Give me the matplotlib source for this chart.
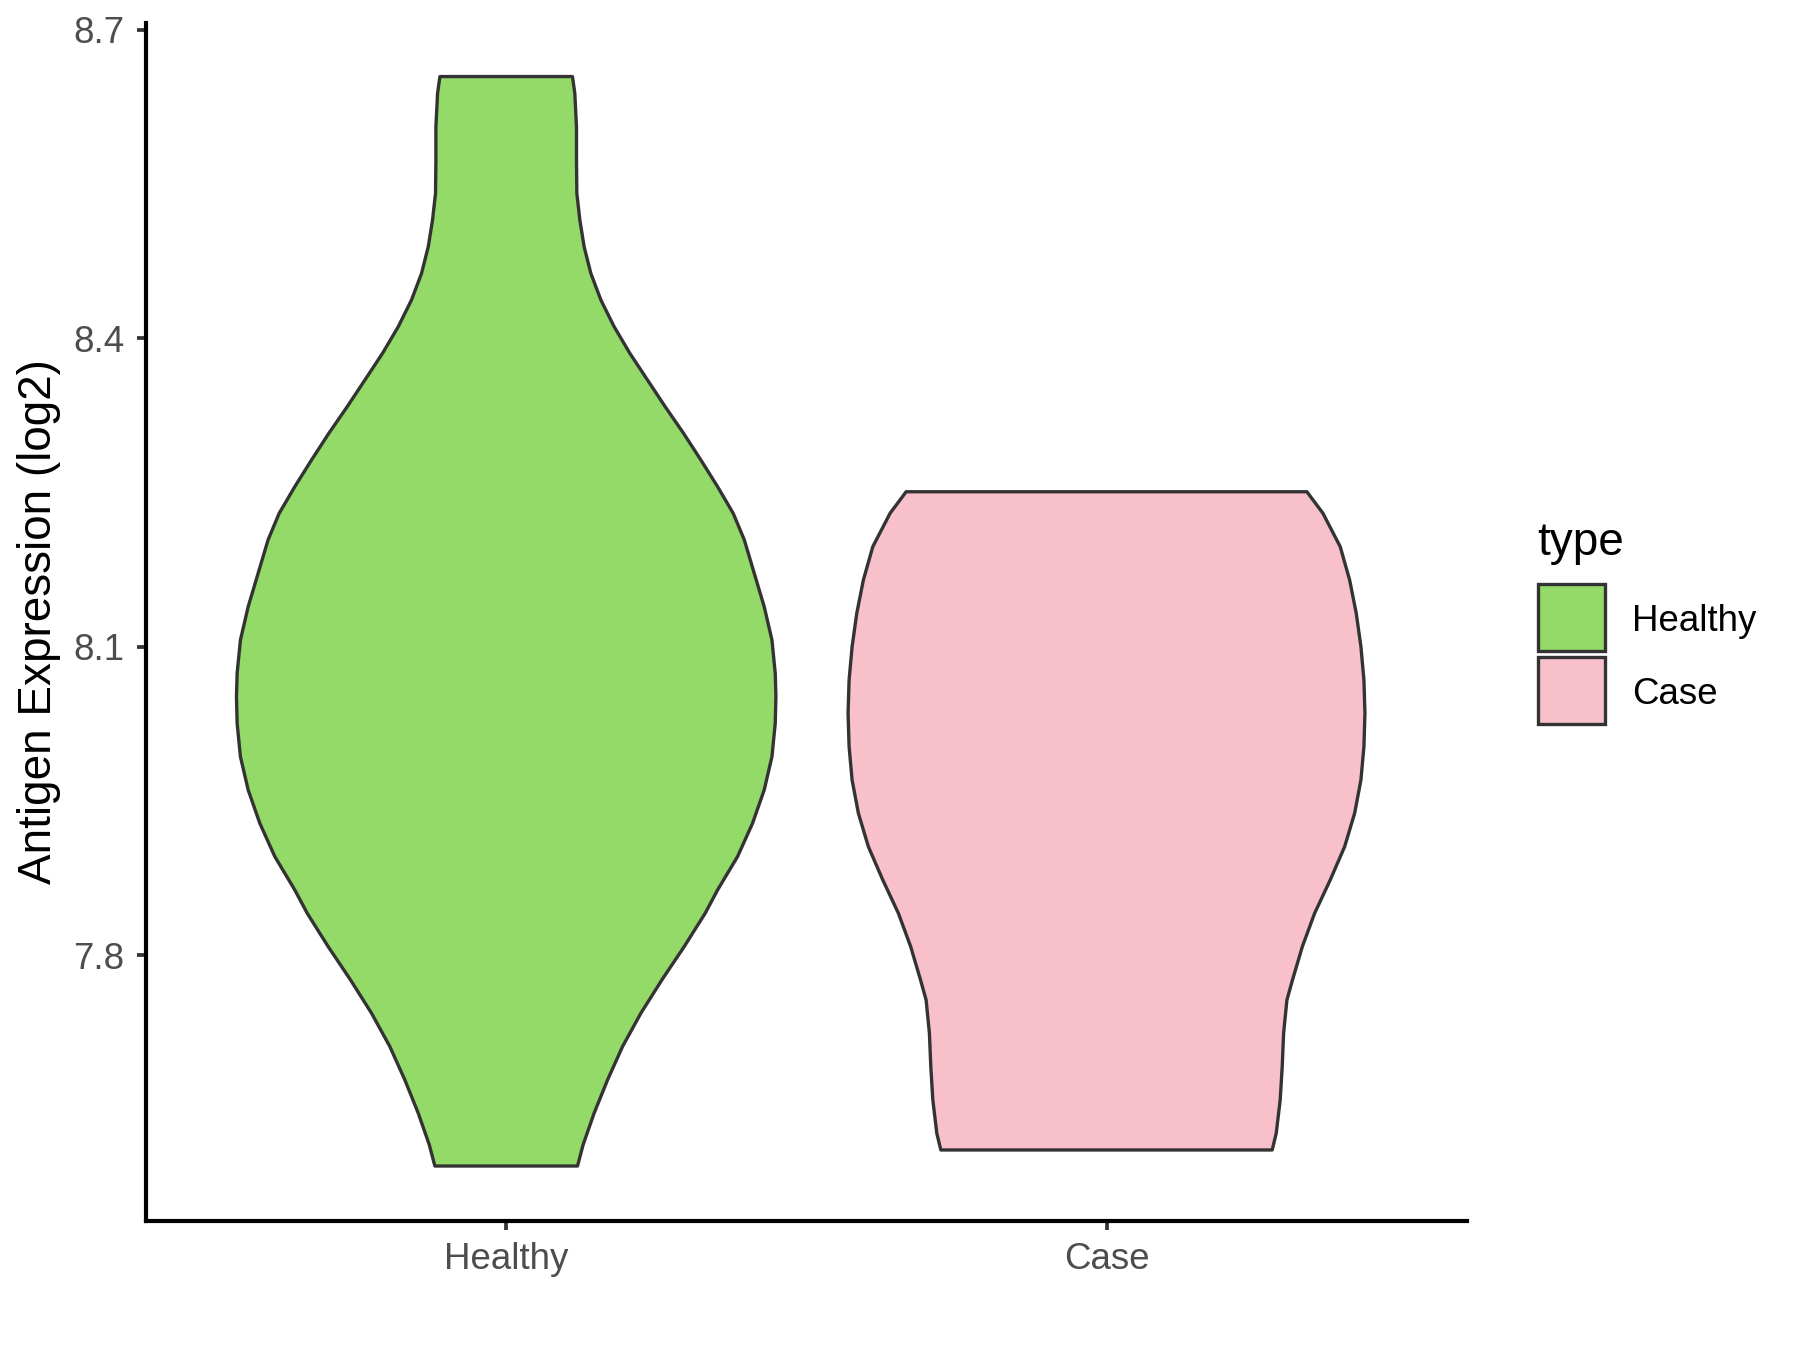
import numpy as np
import matplotlib
matplotlib.use('Agg')
import matplotlib.pyplot as plt
from matplotlib.patches import Rectangle

# groups and fills
groups = ['Healthy', 'Case']
fills = ['#93DA69', '#F8C0CB']
edge = '#333333'

# violin outlines: y value -> half width (x units)
healthy_y = [8.6547, 8.6384, 8.6060, 8.5735, 8.5411, 8.5152, 8.4892, 8.4633,
             8.4374, 8.4114, 8.3855, 8.3595, 8.3336, 8.3077, 8.2817, 8.2558,
             8.2298, 8.2039, 8.1715, 8.1390, 8.1066, 8.0742, 8.0515, 8.0256,
             7.9931, 7.9607, 7.9283, 7.8959, 7.8634, 7.8408, 7.8083, 7.7759,
             7.7435, 7.7111, 7.6786, 7.6463, 7.6157, 7.5949]
healthy_w = [0.1104, 0.1143, 0.1171, 0.1171, 0.1177, 0.1227, 0.1298, 0.1410,
             0.1577, 0.1798, 0.2060, 0.2354, 0.2648, 0.2954, 0.3243, 0.3521,
             0.3782, 0.3967, 0.4132, 0.4298, 0.4427, 0.4482, 0.4493, 0.4482,
             0.4427, 0.4298, 0.4104, 0.3854, 0.3521, 0.3315, 0.2965, 0.2593,
             0.2243, 0.1938, 0.1688, 0.1465, 0.1282, 0.1188]

case_y = [8.2508, 8.2299, 8.1974, 8.1650, 8.1326, 8.1001, 8.0677, 8.0353,
          8.0029, 7.9704, 7.9380, 7.9056, 7.8732, 7.8408, 7.8083, 7.7759,
          7.7564, 7.7240, 7.6916, 7.6591, 7.6267, 7.6105]
case_w = [0.3338, 0.3605, 0.3893, 0.4050, 0.4160, 0.4238, 0.4288, 0.4305,
          0.4288, 0.4238, 0.4133, 0.3967, 0.3727, 0.3467, 0.3262, 0.3098,
          0.3005, 0.2950, 0.2927, 0.2893, 0.2827, 0.2760]

y_ticks = [7.8, 8.1, 8.4, 8.7]

plt.rcParams['font.family'] = ['Liberation Sans', 'DejaVu Sans']

W, H = 1800, 1350
fig = plt.figure(figsize=(6, 4.5), dpi=300)
ax = fig.add_axes([146 / W, 1 - 1220.7 / H, (1466.7 - 146) / W, (1220.7 - 23.3) / H])

profiles = [(healthy_y, healthy_w), (case_y, case_w)]
for i, ((ys, ws), fc) in enumerate(zip(profiles, fills)):
    pos = i + 1
    ys = np.asarray(ys)
    ws = np.asarray(ws)
    xs = np.concatenate([pos - ws, (pos + ws)[::-1]])
    yy = np.concatenate([ys, ys[::-1]])
    ax.fill(xs, yy, facecolor=fc, edgecolor=edge, lw=0.8, joinstyle='round')

ax.set_xlim(0.4, 2.6)
ax.set_ylim(7.5417, 8.7065)
ax.set_yticks(y_ticks)
ax.set_yticklabels([f'{v:.1f}' for v in y_ticks])
ax.set_xticks([1, 2])
ax.set_xticklabels(groups)

for s in ['top', 'right']:
    ax.spines[s].set_visible(False)
for s in ['left', 'bottom']:
    ax.spines[s].set_linewidth(1.0)
    ax.spines[s].set_color('black')

ax.tick_params(length=2.2, width=0.9, color=edge, labelcolor='#4D4D4D',
               labelsize=8.8, pad=3)
ax.set_ylabel('Antigen Expression (log2)', fontsize=11, labelpad=3)

# legend drawn by hand, ggplot style
fig.text(1537 / W, 1 - 555 / H, 'type', fontsize=11, va='baseline', ha='left')
key_tops = [584, 657]
for fc, top, lab in zip(fills, key_tops, groups):
    fig.patches.append(Rectangle((1538 / W, 1 - (top + 67) / H), 67 / W, 67 / H,
                                 transform=fig.transFigure, facecolor=fc,
                                 edgecolor=edge, lw=0.8))
    fig.text(1632 / W, 1 - (top + 47) / H, lab, fontsize=8.8,
             va='baseline', ha='left')

fig.savefig('out.png', dpi=300)
